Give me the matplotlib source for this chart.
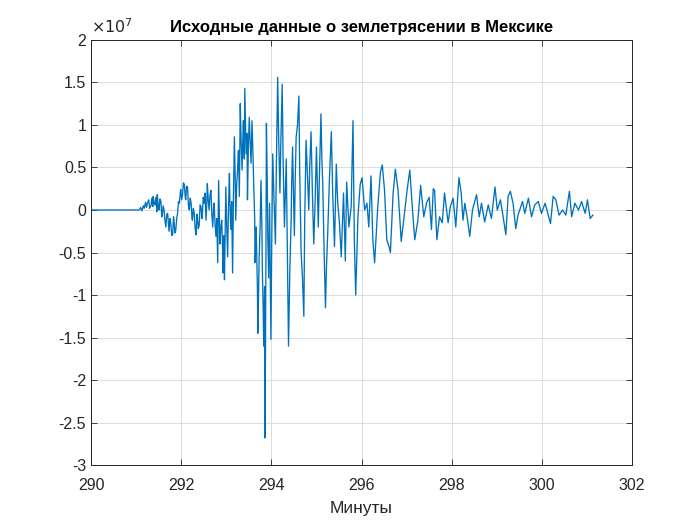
import matplotlib
matplotlib.use("Agg")
import matplotlib.pyplot as plt
from matplotlib.ticker import FuncFormatter

# time (minutes) and amplitude (x 1e7)
t = [290.00, 291.05,
     291.07, 291.10, 291.13, 291.16, 291.18, 291.21, 291.23, 291.25, 291.28, 291.30,
     291.33, 291.35, 291.37, 291.38, 291.40, 291.42, 291.44, 291.46, 291.47, 291.49,
     291.51, 291.53, 291.55, 291.57, 291.58, 291.60, 291.62, 291.64, 291.66, 291.68,
     291.70, 291.72, 291.73, 291.75, 291.77, 291.79, 291.81, 291.83, 291.84, 291.86,
     291.88, 291.90, 291.92, 291.94, 291.96, 291.98, 291.99, 292.01, 292.03, 292.05,
     292.07, 292.09, 292.10, 292.12, 292.14, 292.16, 292.18, 292.20, 292.22, 292.24,
     292.25, 292.27, 292.29, 292.31, 292.33, 292.35, 292.36, 292.38, 292.40, 292.42,
     292.44, 292.46, 292.47, 292.49,
     292.51, 292.53, 292.55, 292.57, 292.58, 292.60, 292.62, 292.64, 292.66, 292.68,
     292.70, 292.72, 292.73, 292.75, 292.77, 292.79, 292.81, 292.83, 292.85, 292.86,
     292.88, 292.90, 292.92, 292.93, 292.95, 292.96, 292.99, 293.01, 293.03, 293.05,
     293.07, 293.08, 293.10, 293.12, 293.14, 293.16, 293.18, 293.20, 293.21, 293.23,
     293.25, 293.27, 293.29, 293.31, 293.33, 293.35, 293.37, 293.38, 293.40, 293.41,
     293.43, 293.44, 293.46, 293.47, 293.49, 293.51, 293.53, 293.55, 293.57, 293.59,
     293.61, 293.63, 293.64, 293.66, 293.67, 293.69, 293.70, 293.72, 293.73, 293.75,
     293.77, 293.79, 293.80, 293.82, 293.83, 293.85, 293.86, 293.88, 293.89, 293.91,
     293.92, 293.94, 293.96, 293.99,
     294.01, 294.03, 294.06, 294.09, 294.11, 294.14, 294.16, 294.19, 294.21, 294.24,
     294.26, 294.29, 294.31, 294.33, 294.35, 294.38, 294.41, 294.44, 294.45, 294.47,
     294.49, 294.51, 294.53, 294.55, 294.58, 294.61, 294.63, 294.66, 294.69, 294.72,
     294.74, 294.77, 294.80, 294.83, 294.85, 294.88, 294.91, 294.94, 294.97, 295.00,
     295.02, 295.04, 295.07, 295.10, 295.12, 295.14, 295.17, 295.20, 295.22, 295.25,
     295.29, 295.33, 295.36, 295.40, 295.44, 295.47,
     295.51, 295.55, 295.60, 295.64, 295.67, 295.72, 295.77, 295.81, 295.84, 295.87,
     295.92, 295.97, 296.01, 296.07, 296.12, 296.16, 296.21, 296.25, 296.29, 296.36,
     296.42, 296.46, 296.51, 296.56, 296.61, 296.64, 296.70, 296.75, 296.81, 296.88,
     296.96, 297.01, 297.07, 297.13, 297.18, 297.25, 297.31, 297.38, 297.44, 297.50,
     297.55, 297.59, 297.62, 297.67, 297.73, 297.79, 297.84, 297.92, 297.97, 298.03,
     298.09, 298.16, 298.21, 298.25, 298.29, 298.34, 298.40, 298.46, 298.55, 298.61,
     298.66, 298.73, 298.81, 298.88, 298.96, 299.01, 299.08, 299.14, 299.20, 299.25,
     299.30, 299.36, 299.42, 299.47,
     299.57, 299.62, 299.70, 299.77, 299.84, 299.92, 299.99, 300.07, 300.14, 300.19,
     300.25, 300.31, 300.38, 300.46, 300.53, 300.61, 300.66, 300.73, 300.81, 300.88,
     300.96, 301.01, 301.07, 301.13]

amp = [0.0, 0.0,
       0.00, 0.03, -0.01, 0.05, 0.02, 0.09, 0.03, 0.08, 0.12, 0.02,
       0.05, 0.14, 0.04, 0.16, 0.08, 0.06, 0.15, -0.02, 0.18, 0.05,
       0.00, 0.13, 0.10, -0.08, -0.06, 0.05, 0.00, -0.12, -0.20, -0.05,
       -0.04, -0.18, -0.25, -0.10, -0.16, -0.30, -0.29, -0.08, -0.12, -0.27,
       -0.24, -0.10, -0.04, 0.10, 0.08, 0.20, 0.24, 0.12, 0.18, 0.32,
       0.30, 0.15, 0.12, 0.28, 0.27, 0.06, 0.00, 0.14, 0.08, -0.10,
       -0.12, 0.02, -0.04, -0.22, -0.29, -0.05, -0.08, -0.22, -0.18, 0.06,
       0.04, -0.10, -0.04, 0.15,
       0.08, 0.20, -0.12, 0.10, 0.31, 0.12, 0.00, 0.18, 0.23, -0.05,
       -0.20, 0.05, 0.08, -0.15, -0.31, -0.10, -0.62, 0.35, -0.15, -0.40,
       -0.20, -0.12, -0.50, -0.74, -0.30, -0.82, 0.27, -0.20, -0.55, 0.05,
       0.43, 0.10, -0.23, 0.10, -0.74, 0.20, 0.86, 0.30, -0.12, 0.30,
       0.47, 0.70, 0.16, 1.25, 0.80, 0.47, 0.90, 1.05, 0.60, 1.43,
       0.95, 0.66, 0.90, 0.12, 0.75, 1.09, 0.80, 0.55, 1.05, 0.70,
       0.27, -0.10, -0.62, -0.20, -0.39, -0.90, -1.45, -0.80, -0.55, -0.20,
       0.35, -0.20, -0.70, -1.20, -1.60, -0.90, -2.68, -0.50, 1.02, 0.30,
       -0.30, -0.80, 0.08, -1.52,
       -0.30, 0.66, 0.10, -0.40, 0.50, 1.56, 0.90, 0.20, 0.80, 1.48,
       0.60, -0.20, 0.20, 0.60, -0.30, -1.60, -0.70, -0.08, 0.30, 0.74,
       0.20, -0.30, 0.40, 0.86, 1.00, 1.34, 0.40, -0.50, -0.80, -1.25,
       -0.10, 0.82, 0.40, 0.00, 0.50, 0.92, 0.20, -0.40, 0.10, 0.74,
       0.30, -0.20, 0.50, 1.13, 0.60, 0.30, -0.50, -1.15, -0.70, -0.27,
       0.40, 0.92, 0.20, -0.43, 0.54, 0.10,
       -0.15, -0.55, 0.20, -0.60, 0.33, -0.20, 0.04, 1.05, -0.35, -1.00,
       -0.08, 0.30, 0.38, 0.0, 0.08, -0.20, 0.40, -0.35, -0.62, 0.04,
       0.45, 0.53, 0.23, -0.35, -0.43, -0.50, 0.20, 0.48, 0.23, -0.37,
       0.0, 0.23, 0.47, 0.0, -0.35, -0.12, 0.29, -0.08, 0.08, 0.15,
       -0.23, 0.25, 0.23, -0.35, -0.08, -0.15, 0.20, -0.15, 0.04, 0.14,
       -0.20, 0.38, 0.20, -0.12, 0.08, -0.08, -0.31, 0.0, 0.18, -0.08,
       0.08, -0.14, 0.06, -0.10, 0.27, 0.0, 0.12, -0.08, -0.29, 0.16,
       0.22, 0.08, -0.22, -0.06,
       0.10, -0.04, 0.14, -0.08, 0.06, 0.10, -0.04, 0.08, -0.06, -0.16,
       0.16, 0.12, -0.06, 0.0, -0.06, 0.22, -0.08, 0.08, 0.0, 0.10,
       -0.04, 0.12, -0.10, -0.06]

x_ticks = [290, 292, 294, 296, 298, 300, 302]
y_ticks = [-3, -2.5, -2, -1.5, -1, -0.5, 0, 0.5, 1, 1.5, 2]

plt.rcParams['font.family'] = ['Liberation Sans', 'DejaVu Sans']

fig = plt.figure(figsize=(7, 5.25), dpi=100)
ax = fig.add_axes([0.13, 0.114, 0.773, 0.81])
ax.plot(t, amp, color='#0072BD', linewidth=0.95)
ax.set_xlim(290, 302)
ax.set_ylim(-3, 2)
ax.set_xticks(x_ticks)
ax.set_yticks(y_ticks)
ax.yaxis.set_major_formatter(FuncFormatter(lambda v, p: ('%g' % v)))
ax.grid(True, color='#dcdcdc', linewidth=0.7)
ax.set_axisbelow(True)
ax.tick_params(direction='in', top=True, right=True, labelsize=11.5,
               color='#262626', labelcolor='#262626', length=4, width=0.6)
ax.tick_params(axis='x', pad=9)
for s in ax.spines.values():
    s.set_color('#262626')
    s.set_linewidth(0.7)
ax.set_xlabel('Минуты', fontsize=12.5, color='#262626', labelpad=6)
ax.set_title('Исходные данные о землетрясении в Мексике', fontsize=12,
             fontweight='bold', color='#000000', pad=6)
ax.text(0.0, 1.008, r'$\times10^{7}$', transform=ax.transAxes, fontsize=11.5,
        color='#262626', ha='left', va='bottom')
fig.savefig('out.png', dpi=100)
